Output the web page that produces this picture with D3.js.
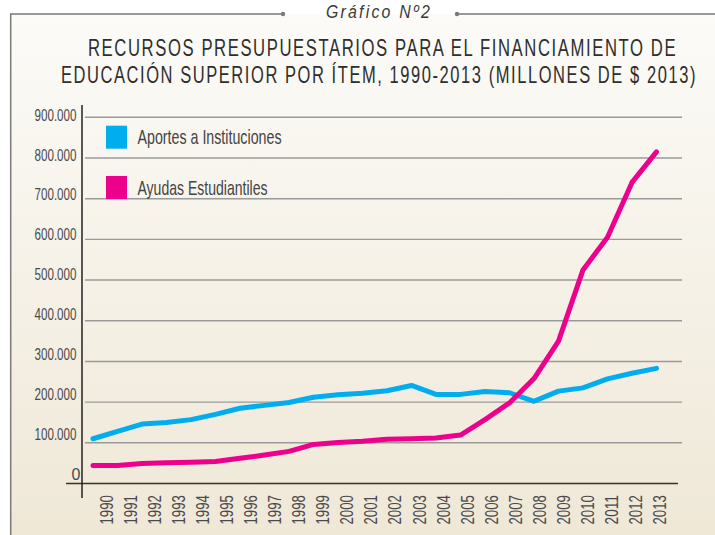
<!DOCTYPE html>
<html>
<head>
<meta charset="utf-8">
<script src="https://cdn.jsdelivr.net/npm/d3@7"></script>
<style>
  body { margin: 0; background: #fff; }
  svg { display: block; }
  text { font-family: "Liberation Sans", Arial, sans-serif; }
</style>
</head>
<body>
<svg width="715" height="535"></svg>
<script>
// Datos
var anios = [1990, 1991, 1992, 1993, 1994, 1995, 1996, 1997, 1998, 1999, 2000, 2001,
             2002, 2003, 2004, 2005, 2006, 2007, 2008, 2009, 2010, 2011, 2012, 2013];
var aportes = [110000, 128000, 146000, 150000, 157000, 170000, 185000, 192000, 199000, 212000, 218000, 222000,
               228000, 241000, 219000, 219000, 226000, 223000, 202000, 227000, 235000, 257000, 271000, 283000];
var ayudas = [44000, 44000, 49000, 51000, 52000, 54000, 62000, 70000, 79000, 96000, 101000, 104000,
              109000, 110000, 112000, 119000, 157000, 198000, 258000, 350000, 525000, 605000, 740000, 815000];
var yTicks = [0, 100000, 200000, 300000, 400000, 500000, 600000, 700000, 800000, 900000];
var series = [
  {nombre: "Aportes a Instituciones", valores: aportes, color: "#00aeef"},
  {nombre: "Ayudas Estudiantiles", valores: ayudas, color: "#ec008c"}
];
var titulo = ["RECURSOS PRESUPUESTARIOS PARA EL FINANCIAMIENTO DE",
              "EDUCACIÓN SUPERIOR POR ÍTEM, 1990-2013 (MILLONES DE $ 2013)"];

// sin fuentes condensadas: se comprime el texto a lo ancho
var anchoTitulo = [587, 634];
var anchoLeyenda = [144, 130];

function condensar(t, x, y, ancho) {
  var k = ancho / t.node().getComputedTextLength();
  t.attr('transform', 'translate(' + x + ',' + y + ') scale(' + k + ',1)');
}

var svg = d3.select('svg');

// Fondo
var grad = svg.append('defs').append('linearGradient')
  .attr('id', 'fondo').attr('x1', 0).attr('y1', 0).attr('x2', 0).attr('y2', 1);
grad.append('stop').attr('offset', '0%').attr('stop-color', '#fcfbf8');
grad.append('stop').attr('offset', '100%').attr('stop-color', '#efe8d7');

svg.append('rect')
  .attr('x', 11).attr('y', 14).attr('width', 704).attr('height', 521)
  .attr('fill', 'url(#fondo)');

// Marco superior
svg.append('path')
  .attr('d', 'M10.7,535 V14 H283 M457,14 H715')
  .attr('fill', 'none').attr('stroke', '#7a7a7a').attr('stroke-width', 1.5);
svg.selectAll('.punto').data([283, 457]).enter().append('circle')
  .attr('cx', d => d).attr('cy', 14).attr('r', 2.2).attr('fill', '#7a7a7a');

var cab = svg.append('text')
  .text('Gráfico Nº2')
  .attr('font-size', 18).attr('font-style', 'italic')
  .attr('letter-spacing', 2.5)
  .attr('fill', '#3a3a3a');
condensar(cab, 326, 17.5, 106);

// Titulo
svg.selectAll('.titulo').data(titulo).enter().append('text')
  .attr('class', 'titulo')
  .text(d => d)
  .attr('font-size', 23)
  .attr('letter-spacing', 2.2)
  .attr('fill', '#2e2e2e')
  .each(function(d, i) {
    condensar(d3.select(this), [88, 61][i], 56 + i * 27.3, anchoTitulo[i] + 2.2);
  });

// Escalas
var xScale = d3.scalePoint().domain(anios).range([93, 656.5]);
var xLabel = d3.scalePoint().domain(anios).range([106.7, 659.3]);
var yScale = d3.scaleLinear().domain([0, 900000]).range([483.5, 117.3]);
var yLabel = d3.scaleLinear().domain([0, 900000]).range([479.5, 120.7]);

var fmt = d3.formatLocale({decimal: ',', thousands: '.', grouping: [3], currency: ['$', '']}).format(',');

// Grilla
svg.selectAll('.grid').data(yTicks.slice(1)).enter().append('line')
  .attr('x1', 85).attr('x2', 682)
  .attr('y1', d => yScale(d)).attr('y2', d => yScale(d))
  .attr('stroke', '#9a9a9a').attr('stroke-width', 1.4);

svg.selectAll('.ylab').data(yTicks).enter().append('text')
  .text(d => fmt(d))
  .attr('x', d => d ? 34.5 : 71.5)
  .attr('y', d => yLabel(d))
  .attr('font-size', 16)
  .attr('textLength', d => d ? 42 : null)
  .attr('lengthAdjust', 'spacingAndGlyphs')
  .attr('fill', '#4a4a4a');

// Ejes
svg.append('line')
  .attr('x1', 66).attr('x2', 678)
  .attr('y1', yScale(0)).attr('y2', yScale(0))
  .attr('stroke', '#333').attr('stroke-width', 1.5);
svg.append('line')
  .attr('x1', 82).attr('x2', 82)
  .attr('y1', 105).attr('y2', 498)
  .attr('stroke', '#222').attr('stroke-width', 1.5);

svg.selectAll('.xlab').data(anios).enter().append('text')
  .text(d => d)
  .attr('transform', d => 'translate(' + xLabel(d) + ',524.5) rotate(-90)')
  .attr('dy', '0.36em')
  .attr('font-size', 18)
  .attr('textLength', 29.5)
  .attr('lengthAdjust', 'spacingAndGlyphs')
  .attr('fill', '#4a4a4a');

// Lineas
var linea = d3.line()
  .x((d, i) => xScale(anios[i]))
  .y(d => yScale(d));

svg.selectAll('.serie').data(series).enter().append('path')
  .attr('d', d => linea(d.valores))
  .attr('fill', 'none')
  .attr('stroke', d => d.color)
  .attr('stroke-width', 5)
  .attr('stroke-linecap', 'round')
  .attr('stroke-linejoin', 'round');

// Leyenda
var leyenda = svg.selectAll('.leyenda').data(series).enter().append('g')
  .attr('transform', (d, i) => 'translate(106,' + (125.7 + i * 50.3) + ')');
leyenda.append('rect')
  .attr('width', 21).attr('height', 23)
  .attr('fill', d => d.color);
leyenda.append('text')
  .text(d => d.nombre)
  .attr('x', 31.5).attr('y', 18.6)
  .attr('font-size', 21)
  .attr('textLength', (d, i) => anchoLeyenda[i])
  .attr('lengthAdjust', 'spacingAndGlyphs')
  .attr('fill', '#444');
</script>
</body>
</html>
